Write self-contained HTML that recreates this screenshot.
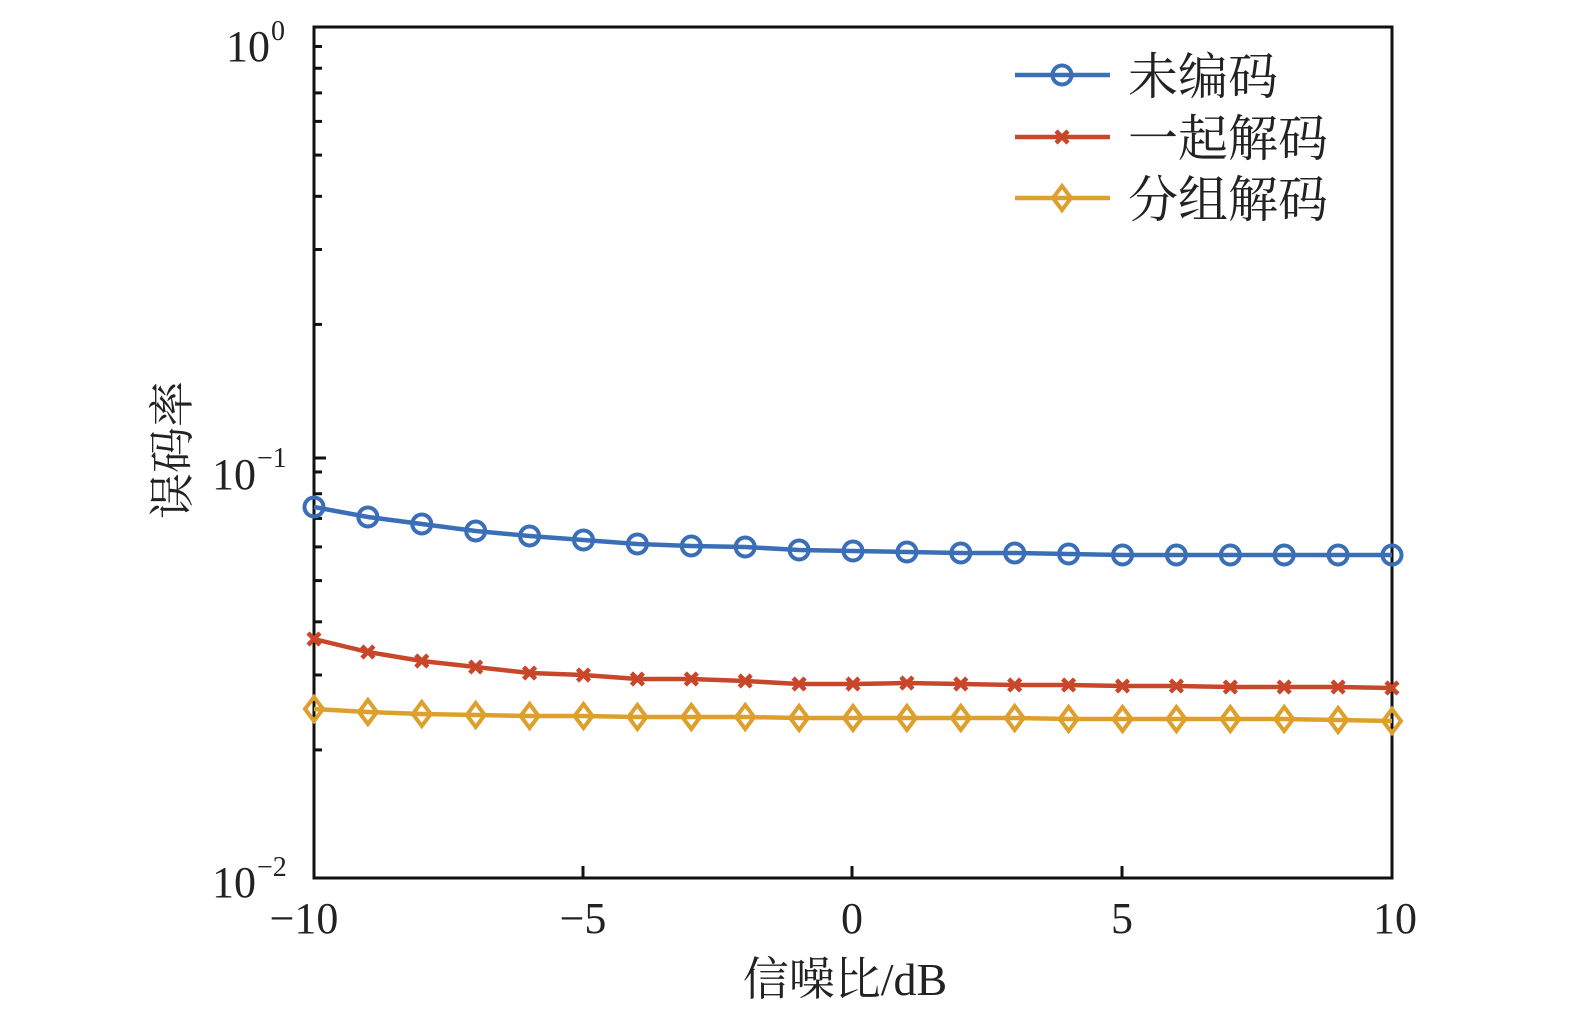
<!DOCTYPE html>
<html><head><meta charset="utf-8"><style>body{margin:0;background:#fff}svg{display:block}</style></head>
<body>
<svg id="s" width="1575" height="1016" xmlns="http://www.w3.org/2000/svg" font-family="'Liberation Serif','Noto Serif CJK SC',serif">
<rect x="314" y="27" width="1078" height="851" fill="none" stroke="#111" stroke-width="3"/>
<g id="ticks" stroke="#111" stroke-width="3"></g>
<g id="series"></g>
<g font-size="44" fill="#222" text-anchor="middle">
<text x="304" y="933">−10</text><text x="583" y="933">−5</text><text x="852" y="933">0</text><text x="1122" y="933">5</text><text x="1395" y="933">10</text>
</g>
<g font-size="44" fill="#222">
<text x="226" y="61">10</text><text x="271" y="40" font-size="28">0</text>
<text x="212" y="489">10</text><text x="257" y="467" font-size="28">−1</text>
<text x="212" y="897">10</text><text x="257" y="876" font-size="28">−2</text>
</g>
<text x="845" y="995" font-size="46" fill="#222" text-anchor="middle">信噪比/dB</text>
<text transform="translate(188,450) rotate(-90)" font-size="46" fill="#222" text-anchor="middle">误码率</text>
<g font-size="50" fill="#222">
<text x="1128" y="94">未编码</text>
<text x="1128" y="156">一起解码</text>
<text x="1128" y="217">分组解码</text>
</g>
</svg>
<script>
var ns="http://www.w3.org/2000/svg",t=document.getElementById("ticks"),g=document.getElementById("series");
function el(p,n,a){var e=document.createElementNS(ns,n);for(var k in a)e.setAttribute(k,a[k]);p.appendChild(e);return e;}
for(var d=0;d<2;d++)for(var m=2;m<=9;m++){var y=878-425.5*(d+Math.log10(m));el(t,"line",{x1:314,x2:322,y1:y,y2:y});}
[458].forEach(function(y){el(t,"line",{x1:314,x2:326,y1:y,y2:y});});
[583,852,1122].forEach(function(x){el(t,"line",{x1:x,x2:x,y1:878,y2:866});});
var B=[507,517,524,531,536,540,544,546,547,550,551,552,553,553,554,555,555,555,555,555,555],
R=[639,652,661,667,673,675,679,679,681,684,684,683,684,685,685,686,686,687,687,687,688],
Y=[709,712,714,715,716,716,717,717,717,718,718,718,718,718,719,719,719,719,719,720,721];
function X(i){return 314+i*53.9;}
function mk(col,x,y,type){
 if(type=="o")el(g,"circle",{cx:x,cy:y,r:9.5,fill:"none",stroke:col,"stroke-width":4});
 else if(type=="x"){el(g,"path",{d:"M"+(x-6)+","+(y-6)+"L"+(x+6)+","+(y+6)+"M"+(x+6)+","+(y-6)+"L"+(x-6)+","+(y+6),stroke:col,"stroke-width":4.5});}
 else el(g,"path",{d:"M"+x+","+(y-12)+"L"+(x+9)+","+y+"L"+x+","+(y+12)+"L"+(x-9)+","+y+"Z",fill:"none",stroke:col,"stroke-width":4});
}
function ser(arr,col,type,ly){
 el(g,"polyline",{points:arr.map(function(y,i){return X(i)+","+y;}).join(" "),fill:"none",stroke:col,"stroke-width":4.5});
 arr.forEach(function(y,i){mk(col,X(i),y,type);});
 el(g,"line",{x1:1015,x2:1110,y1:ly,y2:ly,stroke:col,"stroke-width":4.5});mk(col,1062,ly,type);
}
ser(B,"#3a6fb8","o",75);ser(R,"#c8472a","x",137);ser(Y,"#dea02c","d",198);
</script>
</body></html>
